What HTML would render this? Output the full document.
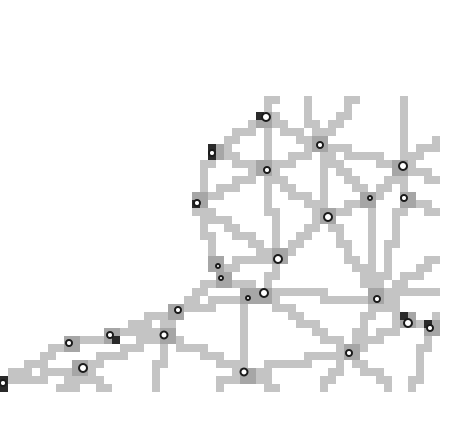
<!DOCTYPE html>
<html><head><meta charset="utf-8"><style>
html,body{margin:0;padding:0;background:#fff;width:461px;height:438px;overflow:hidden}
svg{display:block}
</style></head><body>
<svg id="net" width="461" height="438" viewBox="0 0 461 438" xmlns="http://www.w3.org/2000/svg" shape-rendering="crispEdges">
<g id="edges"></g>
<g id="marks"></g>
<g id="nodes" shape-rendering="geometricPrecision"></g>
</svg>
<script>
const nodeX = [266,212,267,320,197,403,370,404,328,278,218,221,264,248,377,178,408,430,110,164,69,349,83,244,3];
const nodeY = [117,153,170,145,203,166,198,198,217,259,266,278,293,298,299,310,323,328,335,335,343,353,368,372,383];
const nodeR = [4,3,3,3,3,4,2,3,4,4,2,2,4,2,3,3,4,3,3,3.5,3,3,4,3.5,3];
const edgeA = [0,0,0,1,1,2,2,2,2,3,3,3,3,5,5,6,6,7,8,8,9,9,9,12,12,12,13,14,14,16,10,11,15,18,18,20,20,22,22,19,23,21,4,4,15];
const edgeB = [2,1,3,2,4,3,4,9,8,8,5,6,6,6,7,8,14,14,9,14,4,10,12,14,21,11,23,16,21,17,11,15,13,15,19,18,24,24,19,23,21,16,10,9,19];
const endNode = [0,3,3,5,5,5,7,14,14,17,17,21,21,23,23,22,22,22,19];
const endX = [272,305,355,403,438,438,438,438,438,413,438,320,390,217,277,60,76,105,157];
const endY = [99,99,99,99,142,180,213,258,290,388,317,388,388,388,388,388,388,388,388];
const darkX = [256,208,208,192,112,0,0,400,424];
const darkY = [112,144,152,200,336,376,384,312,320];
const S = 8;
const NS="http://www.w3.org/2000/svg";
const eg=document.getElementById('edges'), mg=document.getElementById('marks'), ng=document.getElementById('nodes');
const cells=new Set();
function raster(x1,y1,x2,y2){
  const n=Math.ceil(Math.hypot(x2-x1,y2-y1)*2)+1;
  let pc=null;
  for(let i=0;i<=n;i++){
    const t=i/n, x=x1+(x2-x1)*t, y=y1+(y2-y1)*t;
    const c=[Math.floor(x/S),Math.floor(y/S)];
    if(pc&&pc[0]!==c[0]&&pc[1]!==c[1]) cells.add(c[0]+','+pc[1]);
    cells.add(c[0]+','+c[1]);
    pc=c;
  }
}
for(let i=0;i<edgeA.length;i++) raster(nodeX[edgeA[i]],nodeY[edgeA[i]],nodeX[edgeB[i]],nodeY[edgeB[i]]);
for(let i=0;i<endNode.length;i++) raster(nodeX[endNode[i]],nodeY[endNode[i]],endX[i],endY[i]);
cells.forEach(k=>{
  const [cx,cy]=k.split(',').map(Number);
  const r=document.createElementNS(NS,'rect');
  r.setAttribute('x',cx*S);r.setAttribute('y',cy*S);r.setAttribute('width',S);r.setAttribute('height',S);
  r.setAttribute('fill','#c4c4c4');
  
  
  eg.appendChild(r);
});
for(let i=0;i<nodeX.length;i++){
  const gx=Math.round(nodeX[i]/S)*S, gy=Math.round(nodeY[i]/S)*S;
  const h=document.createElementNS(NS,'rect');
  h.setAttribute('x',gx-S);h.setAttribute('y',gy-S);h.setAttribute('width',2*S);h.setAttribute('height',2*S);
  h.setAttribute('fill','#a6a6a6');
  
  
  mg.appendChild(h);
}
for(let i=0;i<darkX.length;i++){
  const s=document.createElementNS(NS,'rect');
  s.setAttribute('x',darkX[i]);s.setAttribute('y',darkY[i]);s.setAttribute('width',S);s.setAttribute('height',S);
  s.setAttribute('fill','#2a2a2a');
  
  
  mg.appendChild(s);
}
for(let i=0;i<nodeX.length;i++){
  const c=document.createElementNS(NS,'circle');
  c.setAttribute('cx',nodeX[i]);c.setAttribute('cy',nodeY[i]);c.setAttribute('r',nodeR[i]);
  c.setAttribute('fill','#fff');c.setAttribute('stroke','#1a1a1a');c.setAttribute('stroke-width','2');
  
  
  ng.appendChild(c);
}
</script>
</body></html>
